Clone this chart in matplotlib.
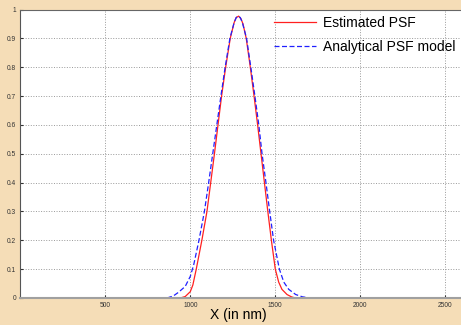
import matplotlib
matplotlib.use('Agg')
import matplotlib.pyplot as plt

# 读图得到的数据点
red_x = [941, 970, 1000, 1015, 1035, 1068, 1098, 1120, 1142, 1163, 1184, 1208, 1235,
         1258, 1270, 1284, 1298, 1310, 1329, 1353, 1375, 1396, 1416, 1436, 1456, 1477,
         1500, 1520, 1539, 1569, 1595, 1618]
red_y = [0, 0.005, 0.022, 0.045, 0.1, 0.2, 0.3, 0.4, 0.5, 0.6, 0.7, 0.8, 0.9,
         0.955, 0.972, 0.977, 0.968, 0.95, 0.9, 0.8, 0.7, 0.6, 0.5, 0.4, 0.3, 0.2,
         0.1, 0.055, 0.03, 0.012, 0.004, 0]

blue_x = [863, 900, 931, 970, 1000, 1020, 1051, 1083, 1108, 1132, 1156, 1180, 1205,
          1233, 1258, 1270, 1282, 1294, 1306, 1331, 1356, 1380, 1403, 1422, 1445, 1467,
          1490, 1524, 1550, 1579, 1620, 1660, 1706]
blue_y = [0, 0.007, 0.02, 0.04, 0.075, 0.115, 0.2, 0.3, 0.4, 0.5, 0.6, 0.7, 0.8,
          0.9, 0.955, 0.972, 0.977, 0.972, 0.955, 0.9, 0.8, 0.7, 0.6, 0.5, 0.4, 0.3,
          0.2, 0.1, 0.055, 0.03, 0.012, 0.004, 0]

x_ticks = [500, 1000, 1500, 2000, 2500]
y_ticks = [0, 0.1, 0.2, 0.3, 0.4, 0.5, 0.6, 0.7, 0.8, 0.9, 1]
y_tick_labels = ['0', '0.1', '0.2', '0.3', '0.4', '0.5', '0.6', '0.7', '0.8', '0.9', '1']

plt.rcParams['font.family'] = ['Liberation Sans', 'DejaVu Sans']

W, H = 461, 325
fig = plt.figure(figsize=(W / 100, H / 100), dpi=100, facecolor='#F5DDB7')
ax = fig.add_axes([20.3 / W, (H - 298) / H, 441 / W, (298 - 9.5) / H])
ax.set_facecolor('white')

ax.plot(red_x, red_y, color='#FF2020', linewidth=0.9, label='Estimated PSF')
ax.plot(blue_x, blue_y, color='#2020FF', linewidth=0.9, linestyle='--',
        dashes=(4, 2), label='Analytical PSF model')

ax.set_xlim(0, 441 / 85 * 500)
ax.set_ylim(0, 1)
ax.set_xticks(x_ticks)
ax.set_xticklabels([str(t) for t in x_ticks])
ax.set_yticks(y_ticks)
ax.set_yticklabels(y_tick_labels)
ax.tick_params(direction='in', length=2, width=0.8, colors='#333333',
               labelsize=4.8, pad=3)

ax.grid(True, linestyle=':', color='#999999', linewidth=0.7)

ax.spines['right'].set_visible(False)
ax.spines['left'].set_color('#555555')
ax.spines['top'].set_color('#666666')
ax.spines['bottom'].set_color('#A0A0A0')
ax.spines['bottom'].set_linewidth(1.5)

ax.set_xlabel('X (in nm)', fontsize=10)
ax.xaxis.set_label_coords((238 - 20.3) / 441, -0.036)

fig.legend(loc='upper left', bbox_to_anchor=(274 / W, 1 - 16 / H), frameon=False,
           fontsize=10, handlelength=3.0, handletextpad=0.5, labelspacing=0.7,
           borderpad=0, borderaxespad=0)

plt.savefig('out.png', dpi=100, facecolor=fig.get_facecolor())
